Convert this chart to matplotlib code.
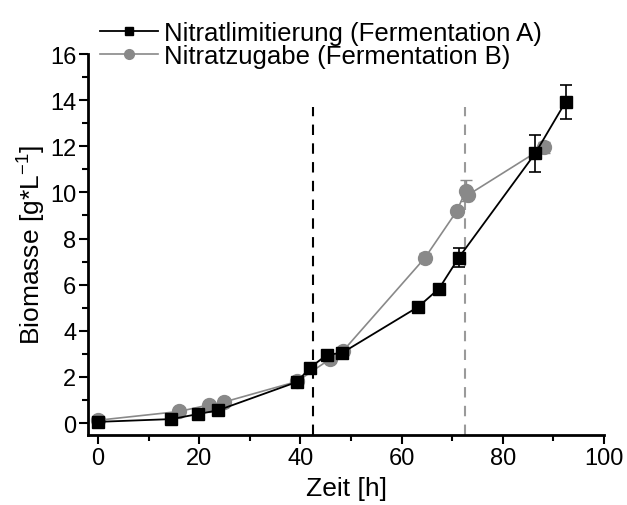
import matplotlib
matplotlib.use("Agg")
import matplotlib.pyplot as plt
from matplotlib.ticker import MultipleLocator
from matplotlib.lines import Line2D

plt.rcParams['font.family'] = ['Liberation Sans', 'DejaVu Sans']
plt.rcParams['mathtext.fontset'] = 'custom'
plt.rcParams['mathtext.rm'] = 'Liberation Sans'
plt.rcParams['mathtext.it'] = 'Liberation Sans:italic'
plt.rcParams['mathtext.bf'] = 'Liberation Sans:bold'

# Fermentation A (Nitratlimitierung)
time_a = [0, 14.5, 19.8, 23.7, 39.3, 41.9, 45.2, 48.3, 63.3, 67.4, 71.3, 86.4, 92.4]
bio_a = [0.05, 0.17, 0.39, 0.55, 1.78, 2.4, 2.95, 3.05, 5.04, 5.83, 7.17, 11.69, 13.92]
err_a = [0.02, 0.05, 0.05, 0.05, 0.05, 0.05, 0.1, 0.1, 0.1, 0.1, 0.4, 0.8, 0.74]

# Fermentation B (Nitratzugabe)
time_b = [0, 16.0, 22.0, 24.9, 39.3, 45.9, 48.4, 64.6, 70.9, 72.7, 73.2, 88.1]
bio_b = [0.12, 0.5, 0.79, 0.91, 1.8, 2.78, 3.12, 7.16, 9.19, 10.08, 9.9, 11.95]
err_b = [0.02, 0.05, 0.05, 0.05, 0.05, 0.05, 0.1, 0.2, 0.1, 0.45, 0.1, 0.25]

vline_a = 42.5
vline_b = 72.6
vline_top = 13.7

label_a = "Nitratlimitierung (Fermentation A)"
label_b = "Nitratzugabe (Fermentation B)"

W, H = 627, 506
ymin, ymax = -0.52, 16
fig = plt.figure(figsize=(W / 100, H / 100), dpi=100)
ax = fig.add_axes([88 / W, (H - 436) / H, (604 - 88) / W, (436 - 55) / H])

grey = "#898989"

ax.vlines(vline_a, ymin, vline_top, colors="black", linestyles=(0, (5, 4)), linewidth=1.5, zorder=1)
ax.vlines(vline_b, ymin, vline_top, colors="#9a9a9a", linestyles=(0, (5, 4)), linewidth=1.5, zorder=1)

ax.errorbar(time_b, bio_b, yerr=err_b, color=grey, marker="o", markersize=10,
            linewidth=1.2, capsize=4, elinewidth=1.0, capthick=1.0, zorder=3)
ax.errorbar(time_a, bio_a, yerr=err_a, color="black", marker="s", markersize=8,
            linewidth=1.3, capsize=4, elinewidth=1.2, capthick=1.2, zorder=4)

ax.set_xlim(-2, 100)
ax.set_ylim(ymin, ymax)
ax.xaxis.set_major_locator(MultipleLocator(20))
ax.xaxis.set_minor_locator(MultipleLocator(10))
ax.yaxis.set_major_locator(MultipleLocator(2))
ax.yaxis.set_minor_locator(MultipleLocator(1))
ax.spines['top'].set_visible(False)
ax.spines['right'].set_visible(False)
ax.spines['left'].set_linewidth(2)
ax.spines['bottom'].set_linewidth(2)
ax.tick_params(which='major', direction='out', length=6.5, width=1.5, labelsize=17, pad=2)
ax.tick_params(which='minor', direction='out', length=4, width=1.5)

ax.set_xlabel("Zeit [h]", fontsize=19, labelpad=5)
ax.set_ylabel("Biomasse [g*L$^{-1}$]", fontsize=19, labelpad=1)

h_a = Line2D([], [], color="black", marker="s", markersize=6, linewidth=1.3)
h_b = Line2D([], [], color=grey, marker="o", markersize=7, linewidth=1.2)
fig.legend([h_a, h_b], [label_a, label_b],
           loc="upper left", bbox_to_anchor=(100 / W, 1 - 22 / H), frameon=False,
           fontsize=18.5, handlelength=2.25, handletextpad=0.23,
           labelspacing=-0.05, borderaxespad=0, borderpad=0)

fig.savefig("out.png", dpi=100)
